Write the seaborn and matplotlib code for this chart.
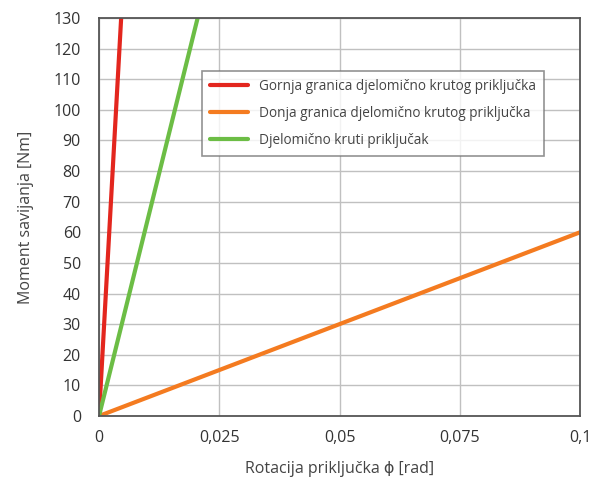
import numpy as np
import pandas as pd
import matplotlib
matplotlib.use("Agg")
import matplotlib.pyplot as plt
import seaborn as sns

# rotacija [rad] i moment [Nm] za svaku krivulju
gornja_x = [0.0, 0.0046]
gornja_y = [0, 130]
donja_x = [0.0, 0.1]
donja_y = [0, 60]
kruti_x = [0.0, 0.0205]
kruti_y = [0, 130]
names = ["Gornja granica djelomično krutog priključka",
         "Donja granica djelomično krutog priključka",
         "Djelomično kruti priključak"]
colors = ["#e3261e", "#f47b20", "#6cbd45"]
x_ticks = [0, 0.025, 0.05, 0.075, 0.1]
x_labels = ["0", "0,025", "0,05", "0,075", "0,1"]
y_ticks = list(range(0, 131, 10))

df = pd.concat([
    pd.DataFrame({"x": gornja_x, "y": gornja_y, "s": names[0]}),
    pd.DataFrame({"x": donja_x, "y": donja_y, "s": names[1]}),
    pd.DataFrame({"x": kruti_x, "y": kruti_y, "s": names[2]}),
])

sns.set_style("white")
plt.rcParams['font.family'] = ['Open Sans', 'DejaVu Sans']
fig = plt.figure(figsize=(5.98, 4.82), dpi=100)
ax = fig.add_axes([0.1656, 0.137, 0.8044, 0.8257])

sns.lineplot(data=df, x="x", y="y", hue="s", palette=dict(zip(names, colors)),
             linewidth=3, ax=ax, sort=False, estimator=None)

ax.set_xlim(0, 0.1)
ax.set_ylim(0, 130)
ax.set_xticks(x_ticks)
ax.set_xticklabels(x_labels)
ax.set_yticks(y_ticks)
ax.grid(True, color="#c0c0c0", linewidth=1)
ax.set_axisbelow(True)
for sp in ax.spines.values():
    sp.set_color("#555555")
    sp.set_linewidth(1.3)
ax.tick_params(axis="both", labelsize=11.5, colors="#333333", length=0)
ax.tick_params(axis="y", pad=13)
ax.tick_params(axis="x", pad=10)
ax.set_xlabel("Rotacija priključka ϕ [rad]", fontsize=11.5, color="#444444", labelpad=11)
ax.set_ylabel("Moment savijanja [Nm]", fontsize=11.5, color="#444444", labelpad=14)

leg = ax.legend(loc="upper left", bbox_to_anchor=(0.2, 0.885), fontsize=9.8,
                frameon=True, fancybox=False, handlelength=2.8, labelspacing=0.9,
                borderpad=0.6)
leg.get_frame().set_edgecolor("#777777")
leg.get_frame().set_linewidth(1.2)
for t in leg.get_texts():
    t.set_color("#444444")

fig.savefig("out.png", dpi=100)
